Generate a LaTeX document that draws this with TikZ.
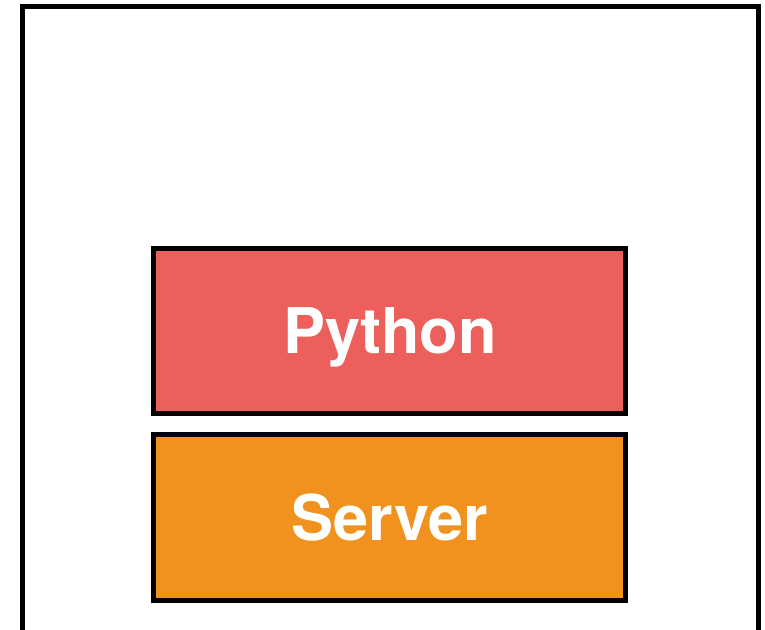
\documentclass[tikz,border=0pt]{standalone}
\usepackage{fontspec}
\setmainfont{TeX Gyre Heros}
\definecolor{pyred}{HTML}{EC5F5A}
\definecolor{srvorange}{HTML}{F0921D}

\begin{document}
\begin{tikzpicture}[x=1pt, y=1pt,
  layer/.style={draw=black, line width=5pt, minimum width=472pt, minimum height=165pt,
    inner sep=0pt, text depth=0pt, text=white, font=\fontsize{63}{70}\selectfont\bfseries}]
  \useasboundingbox (0, 0) rectangle (765, 629);
  \clip (0, 0) rectangle (765, 629);

  \draw[line width=5pt] (22.5, -20) -- (22.5, 622.5) -- (758, 622.5) -- (758, -20);

  \node[layer, fill=pyred] (python) at (389.75, 298) {Python};
  \node[layer, fill=srvorange] (server) at (389.75, 111.5) {Server};
\end{tikzpicture}
\end{document}
